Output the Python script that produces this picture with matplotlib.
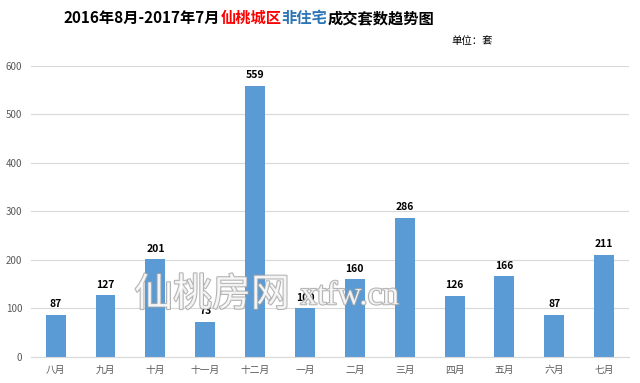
import matplotlib
matplotlib.use('Agg')
import matplotlib.pyplot as plt
import matplotlib.patheffects as pe
from matplotlib.offsetbox import TextArea, HPacker, AnnotationBbox

plt.rcParams['font.family'] = ['Noto Sans CJK SC', 'DejaVu Sans']

# 数据
months = ['八月', '九月', '十月', '十一月', '十二月', '一月', '二月', '三月', '四月', '五月', '六月', '七月']
counts = [87, 127, 201, 73, 559, 100, 160, 286, 126, 166, 87, 211]

title_parts = [('2016年8月-2017年7月', '#000000'), ('仙桃城区', '#FF0000'),
               ('非住宅', '#2E75B6'), ('成交套数趋势图', '#000000')]

fig = plt.figure(figsize=(6.4, 3.83), dpi=100)
ax = fig.add_axes([0.048, 0.068, 0.935, 0.76])

x = range(len(months))
bars = ax.bar(x, counts, width=0.4, color='#5B9BD5', zorder=2)
for xi, v in zip(x, counts):
    ax.text(xi, v + 12, str(v), ha='center', va='bottom', fontsize=7.5, fontweight='bold', color='#000000')

ax.set_xlim(-0.5, len(months) - 0.5)
ax.set_ylim(0, 600)
ax.set_yticks(range(0, 601, 100))
ax.set_xticks(list(x))
ax.set_xticklabels(months)
ax.tick_params(axis='both', length=0, labelsize=7, colors='#595959', pad=6)
ax.grid(axis='y', color='#D9D9D9', linewidth=0.8, zorder=0)
for s in ['top', 'right', 'left']:
    ax.spines[s].set_visible(False)
ax.spines['bottom'].set_color('#D9D9D9')

# 标题
areas = [TextArea(t, textprops=dict(color=c, fontsize=11, fontweight='bold')) for t, c in title_parts]
box = HPacker(children=areas, pad=0, sep=0)
ab = AnnotationBbox(box, (249 / 640, 1 - 18 / 383), xycoords='figure fraction', frameon=False,
                    box_alignment=(0.5, 0.5))
fig.add_artist(ab)

fig.text(472 / 640, 1 - 41 / 383, '单位：套', ha='center', va='center', fontsize=7.5, color='#000000')

# 水印
wm = dict(color='white', alpha=0.8,
          path_effects=[pe.withStroke(linewidth=1.5, foreground='#a0a0a0')])
fig.text(212 / 640, 1 - 295 / 383, '仙桃房网', ha='center', va='center', fontsize=28, **wm)
fig.text(350 / 640, 1 - 296 / 383, 'xtfw.cn', ha='center', va='center', fontsize=24,
         family='Liberation Serif', **wm)

fig.savefig('out.png', dpi=100)
